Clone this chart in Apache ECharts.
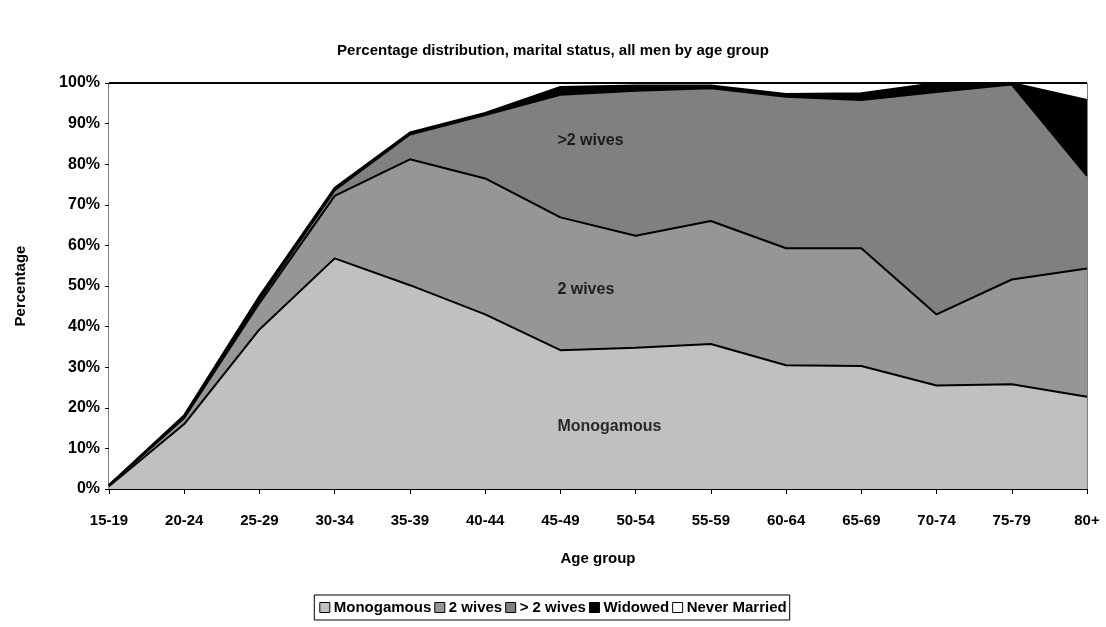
<!DOCTYPE html>
<html>
<head>
<meta charset="utf-8">
<script src="https://cdn.jsdelivr.net/npm/echarts@6/dist/echarts.min.js"></script>
<style>
  html, body { margin: 0; padding: 0; background: #fff; }
  #chart { width: 1106px; height: 627px; }
</style>
</head>
<body>
<div id="chart"></div>
<script>
var chartDom = document.getElementById('chart');
var myChart = echarts.init(chartDom);
var option;

// age groups on the x axis
const ageGroups = ['15-19', '20-24', '25-29', '30-34', '35-39', '40-44', '45-49',
  '50-54', '55-59', '60-64', '65-69', '70-74', '75-79', '80+'];

// percent of men in each status (stacked to 100)
const monogamous   = [0.7, 16.0, 39.3, 56.8, 50.2, 43.0, 34.2, 34.8, 35.7, 30.5, 30.3, 25.5, 25.8, 22.7];
const twoWives     = [0.2, 1.5, 6.5, 15.4, 31.0, 33.5, 32.7, 27.6, 30.3, 28.8, 29.0, 17.5, 25.8, 31.6];
const moreWives    = [0.0, 0.3, 0.8, 1.4, 6.1, 15.6, 30.2, 35.7, 32.7, 37.3, 36.5, 54.8, 48.0, 22.8];
const widowed      = [0.1, 0.4, 0.9, 0.6, 0.5, 0.5, 1.9, 1.3, 0.7, 0.7, 1.7, 2.2, 0.4, 18.7];
const neverMarried = [99.0, 81.8, 52.5, 25.8, 12.2, 7.4, 1.0, 0.6, 0.6, 2.7, 2.5, 0.0, 0.0, 4.2];

// text written inside the areas
const areaLabels = [
  { name: 'Monogamous', at: '45-49', y: 15.3 },
  { name: '2 wives', at: '45-49', y: 49.0 },
  { name: '>2 wives', at: '45-49', y: 85.7 }
];

const font = 'Liberation Sans, Arial, sans-serif';

function areaSeries(name, data, color) {
  return {
    name: name,
    type: 'line',
    stack: 'total',
    data: data,
    symbol: 'none',
    lineStyle: { color: '#000', width: 2 },
    itemStyle: { color: color, borderColor: '#000' },
    areaStyle: { color: color, opacity: 1 }
  };
}

option = {
  animation: false,
  title: {
    text: 'Percentage distribution, marital status, all men by age group',
    left: 'center',
    top: 38,
    textStyle: { fontFamily: font, fontSize: 15, fontWeight: 'bold', color: '#000' }
  },
  legend: {
    data: ['Monogamous', '2 wives', '> 2 wives', 'Widowed', 'Never Married'],
    bottom: 7,
    left: 'center',
    itemWidth: 10,
    itemHeight: 10,
    itemGap: 3,
    icon: 'rect',
    itemStyle: { borderColor: '#000', borderWidth: 1 },
    borderColor: '#000',
    borderWidth: 1,
    padding: [5, 3, 5, 5],
    textStyle: { fontFamily: font, fontSize: 15, fontWeight: 'bold', color: '#000', padding: [0, 0, 0, -1] }
  },
  grid: {
    left: 109,
    right: 19,
    top: 83,
    bottom: 138,
    show: true,
    borderColor: '#000',
    borderWidth: 1
  },
  xAxis: {
    type: 'category',
    data: ageGroups,
    boundaryGap: false,
    name: 'Age group',
    nameLocation: 'middle',
    nameGap: 62,
    nameTextStyle: { fontFamily: font, fontSize: 15, fontWeight: 'bold', color: '#000' },
    axisLine: { lineStyle: { color: '#000', width: 1 } },
    axisTick: { length: 5, lineStyle: { color: '#000' } },
    axisLabel: { margin: 24, fontFamily: font, fontSize: 15, fontWeight: 'bold', color: '#000' },
    splitLine: { show: false }
  },
  yAxis: {
    type: 'value',
    min: 0,
    max: 100,
    interval: 10,
    name: 'Percentage',
    nameLocation: 'middle',
    nameGap: 81,
    nameTextStyle: { fontFamily: font, fontSize: 15, fontWeight: 'bold', color: '#000' },
    axisLine: { show: true, lineStyle: { color: '#000', width: 1 } },
    axisTick: { show: true, length: 4, lineStyle: { color: '#000' } },
    axisLabel: { formatter: '{value}%', margin: 9, fontFamily: font, fontSize: 16, fontWeight: 'bold', color: '#000' },
    splitLine: { show: false }
  },
  series: [
    areaSeries('Monogamous', monogamous, '#C0C0C0'),
    areaSeries('2 wives', twoWives, '#969696'),
    areaSeries('> 2 wives', moreWives, '#808080'),
    areaSeries('Widowed', widowed, '#000000'),
    areaSeries('Never Married', neverMarried, '#FFFFFF'),
    {
      name: 'labels',
      type: 'scatter',
      symbolSize: 0,
      z: 10,
      data: areaLabels.map(function (d) { return { name: d.name, value: [d.at, d.y] }; }),
      label: {
        show: true,
        position: 'right',
        distance: 0,
        offset: [-3, 0],
        formatter: '{b}',
        fontFamily: font,
        fontSize: 16,
        fontWeight: 'bold',
        color: '#000'
      }
    }
  ]
};

option && myChart.setOption(option);
</script>
</body>
</html>
